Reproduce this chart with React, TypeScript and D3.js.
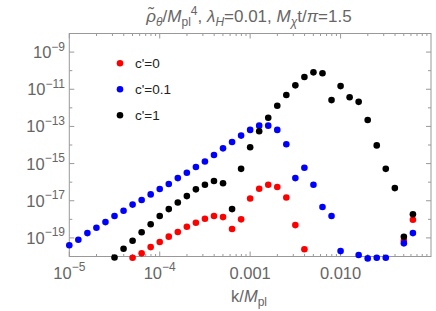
import React from "react";
import * as d3 from "d3";

// k grid (k / M_pl), shared by all series
const kGrid = [
  1.0e-5, 1.259e-5, 1.585e-5, 1.995e-5, 2.512e-5, 3.162e-5, 3.981e-5, 5.012e-5, 6.31e-5, 7.943e-5,
  1.0e-4, 1.259e-4, 1.585e-4, 1.995e-4, 2.512e-4, 3.162e-4, 3.981e-4, 5.012e-4, 6.31e-4, 7.943e-4,
  1.0e-3, 1.259e-3, 1.585e-3, 1.995e-3, 2.512e-3, 3.162e-3, 3.981e-3, 5.012e-3, 6.31e-3, 7.943e-3,
  1.0e-2, 1.259e-2, 1.585e-2, 1.995e-2, 2.512e-2, 3.162e-2, 3.981e-2, 5.012e-2, 6.31e-2,
];

// c'=0 (red)
const redValues: (number | null)[] = [
  null, null, null, null, null, null, null, 8.5e-21, 1.48e-20, 3.2e-20,
  6.0e-20, 1.17e-19, 2.1e-19, 4.0e-19, 6.6e-19, 1.07e-18, 1.5e-18, 1.32e-18, 3.0e-19, 1.0e-18,
  1.32e-17, 4.4e-17, 7.2e-17, 5.5e-17, 1.5e-17, 4.9e-19, 2.45e-20, null, null, null,
  null, null, null, null, null, null, null, 7.1e-20, 9.5e-19,
];

// c'=0.1 (blue)
const blueValues: (number | null)[] = [
  4.0e-20, 7.9e-20, 1.82e-19, 3.5e-19, 7.1e-19, 1.5e-18, 2.9e-18, 6.2e-18, 1.1e-17, 2.2e-17,
  4.3e-17, 7.9e-17, 1.66e-16, 3.2e-16, 6.5e-16, 1.3e-15, 2.9e-15, 6.6e-15, 1.45e-14, 3.2e-14,
  6.5e-14, 1.1e-13, 1.1e-13, 6.5e-14, 1.1e-14, 1.66e-16, 6.0e-16, 7.2e-17, 4.6e-18, 1.5e-18,
  1.95e-20, null, 1.2e-20, 7.9e-21, 8.5e-21, 8.5e-21, null, 5.1e-20, 1.82e-19,
];

// c'=1 (black)
const blackValues: (number | null)[] = [
  null, null, null, null, null, 8.9e-21, 2.6e-20, 7.1e-20, 2.0e-19, 5.4e-19,
  1.5e-18, 3.55e-18, 8.1e-18, 1.78e-17, 4.1e-17, 7.2e-17, 1.15e-16, 8.7e-17, 3.55e-18, 5.2e-16,
  7.6e-15, 5.5e-14, 2.95e-13, 1.29e-12, 4.9e-12, 1.62e-11, 4.6e-11, 8.1e-11, 7.2e-11, 2.6e-12,
  1.48e-11, 3.7e-12, 2.1e-12, 2.2e-13, 9.5e-15, 5.2e-16, 4.8e-17, 1.15e-19, 1.86e-18,
];

const seriesNames = ["c'=0", "c'=0.1", "c'=1"];
const seriesColors = ["#ff0000", "#0000ff", "#000000"];
const seriesValues = [redValues, blueValues, blackValues];

const xMajorTicks = [1e-5, 1e-4, 1e-3, 1e-2];
const xTickLabels: { base: string; exp?: string }[] = [
  { base: "10", exp: "\u22125" },
  { base: "10", exp: "\u22124" },
  { base: "0.001" },
  { base: "0.010" },
];
const yExponents = [-20, -19, -18, -17, -16, -15, -14, -13, -12, -11, -10, -9, -8];
const yLabeledExponents = [-19, -17, -15, -13, -11, -9];

const W = 436;
const H = 311;
const L = 69.3;
const R = 431;
const T = 33.5;
const B = 256.5;
const FONT = "'Liberation Sans', Arial, sans-serif";
const GRAY = "#666666";
const FRAME = "#999999";

type Seg = { t: string; italic?: boolean; size?: number; shift?: number };

function RichText({ x, y, segs, size, anchor, fill }: { x: number; y: number; segs: Seg[]; size: number; anchor: string; fill: string }) {
  let prev = 0;
  return (
    <text x={x} y={y} fontFamily={FONT} fontSize={size} textAnchor={anchor} fill={fill}>
      {segs.map((s, i) => {
        const sh = s.shift ?? 0;
        const dy = sh - prev;
        prev = sh;
        return (
          <tspan key={i} dy={dy} fontStyle={s.italic ? "italic" : "normal"} fontSize={s.size ?? size}>
            {s.t}
          </tspan>
        );
      })}
    </text>
  );
}

export default function App() {
  const x = d3.scaleLog().domain([1e-5, 1e-1]).range([L, R]);
  const y = d3.scaleLog().domain([1e-20, 1e-8]).range([B, T]);

  const xMinor: number[] = [];
  for (let e = -5; e <= -2; e++) {
    for (let m = 2; m <= 9; m++) xMinor.push(m * Math.pow(10, e));
  }

  const titleSegs: Seg[] = [
    { t: "\u03C1\u0303", italic: true },
    { t: "\u03B8", italic: true, size: 12, shift: 4 },
    { t: "/" },
    { t: "M", italic: true },
    { t: "pl", size: 12, shift: 4 },
    { t: "4", size: 12, shift: -7.5 },
    { t: ", " },
    { t: "\u03BB", italic: true },
    { t: "H", italic: true, size: 12, shift: 4 },
    { t: "=0.01, " },
    { t: "M", italic: true },
    { t: "\u03C7", italic: true, size: 12, shift: 4 },
    { t: "t/" },
    { t: "\u03C0", italic: true },
    { t: "=1.5" },
  ];

  return (
    <svg width={W} height={H} style={{ position: "absolute", left: 0, top: 0, background: "#fff" }}>
      <rect x={0} y={0} width={W} height={H} fill="#fff" />
      <RichText x={249} y={22} segs={titleSegs} size={17} anchor="middle" fill={GRAY} />

      {/* x ticks */}
      {xMajorTicks.map((t, i) => (
        <g key={"xm" + i}>
          <line x1={x(t)} x2={x(t)} y1={B} y2={B - 5} stroke={FRAME} />
          <line x1={x(t)} x2={x(t)} y1={T} y2={T + 5} stroke={FRAME} />
        </g>
      ))}
      {xMinor.map((t, i) => (
        <g key={"xn" + i}>
          <line x1={x(t)} x2={x(t)} y1={B} y2={B - 2.5} stroke={FRAME} />
          <line x1={x(t)} x2={x(t)} y1={T} y2={T + 2.5} stroke={FRAME} />
        </g>
      ))}
      {/* y ticks */}
      {yExponents.map((e) => {
        const yy = y(Math.pow(10, e));
        const major = yLabeledExponents.includes(e);
        const len = major ? 5 : 3;
        return (
          <g key={"y" + e}>
            <line x1={L} x2={L + len} y1={yy} y2={yy} stroke={FRAME} />
            <line x1={R} x2={R - len} y1={yy} y2={yy} stroke={FRAME} />
          </g>
        );
      })}

      {/* frame */}
      <rect x={L} y={T} width={R - L} height={B - T} fill="none" stroke={FRAME} />

      {/* y labels */}
      {yLabeledExponents.map((e) => (
        <RichText
          key={"yl" + e}
          x={65}
          y={y(Math.pow(10, e)) + 6}
          segs={[{ t: "10" }, { t: "\u2212" + String(-e), size: 12, shift: -7.5 }]}
          size={16.5}
          anchor="end"
          fill={GRAY}
        />
      ))}

      {/* x labels */}
      {xMajorTicks.map((t, i) => {
        const lab = xTickLabels[i];
        const segs: Seg[] = lab.exp ? [{ t: lab.base }, { t: lab.exp, size: 12, shift: -7.5 }] : [{ t: lab.base }];
        return <RichText key={"xl" + i} x={x(t)} y={278.5} segs={segs} size={16.5} anchor="middle" fill={GRAY} />;
      })}

      {/* axis label */}
      <RichText
        x={249}
        y={302}
        segs={[{ t: "k/" }, { t: "M", italic: true }, { t: "pl", size: 12, shift: 4 }]}
        size={16.5}
        anchor="middle"
        fill={GRAY}
      />

      {/* points */}
      {seriesValues.map((vals, si) => (
        <g key={"s" + si} fill={seriesColors[si]}>
          {vals.map((v, i) => (v == null ? null : <circle key={i} cx={x(kGrid[i])} cy={y(v)} r={3.3} />))}
        </g>
      ))}

      {/* legend */}
      {seriesNames.map((n, i) => (
        <g key={"lg" + i}>
          <circle cx={120} cy={63.3 + i * 26} r={3.3} fill={seriesColors[i]} />
          <text x={135} y={63.3 + i * 26 + 4.5} fontFamily={FONT} fontSize={13.5} fill="#222">
            {n}
          </text>
        </g>
      ))}
    </svg>
  );
}
